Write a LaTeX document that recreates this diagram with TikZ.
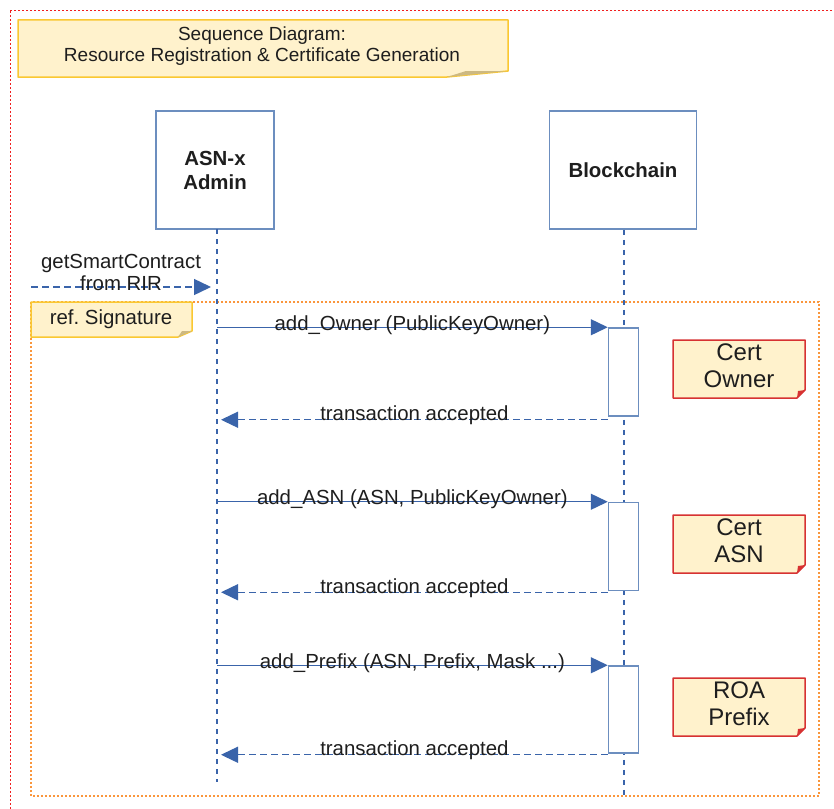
\documentclass[tikz,border=0pt]{standalone}
\usepackage{fontspec}
\setmainfont{Liberation Sans}
\usetikzlibrary{arrows.meta}
\definecolor{lineblue}{RGB}{58,100,170}
\definecolor{boxblue}{RGB}{108,142,191}
\definecolor{noteyellow}{RGB}{255,242,204}
\definecolor{notegold}{RGB}{250,200,50}
\definecolor{folddark}{RGB}{205,185,130}
\definecolor{notered}{RGB}{215,50,50}
\definecolor{framered}{RGB}{240,30,30}
\definecolor{frameorange}{RGB}{250,150,60}
\definecolor{txt}{RGB}{30,30,30}
\frenchspacing
\begin{document}
\begin{tikzpicture}[x=1pt,y=-1pt,
  actor/.style={draw=boxblue, line width=1.8pt, fill=white, minimum height=118pt, inner sep=0pt,
     font=\fontsize{20.4}{24}\selectfont\bfseries, align=center, text=txt},
  lifeline/.style={draw=lineblue, line width=1.2pt, dash pattern=on 5pt off 5pt},
  actbox/.style={draw=boxblue, line width=1.5pt, fill=white, minimum width=30pt, inner sep=0pt},
  msg/.style={draw=lineblue, line width=1.4pt, -{Triangle[length=17pt,width=16pt]}},
  ret/.style={msg, dash pattern=on 7pt off 4pt},
  msglabel/.style={font=\fontsize{20.4}{22}\selectfont, text=txt, inner sep=0pt, align=center},
  yellownote/.style={fill=noteyellow, draw=notegold, line width=1.5pt, line join=round},
  rednote/.style={fill=noteyellow, draw=notered, line width=1.5pt, line join=round},
  notetext/.style={font=\fontsize{24}{27}\selectfont, text=txt, align=center, inner sep=0pt}
]
\useasboundingbox (0,0) rectangle (834,808);
\fill[white] (0,0) rectangle (834,808);

% frames
\draw[framered, line width=1pt, dash pattern=on 2pt off 2pt] (10,11) rectangle (850,830);
\draw[frameorange, line width=1.3pt, dash pattern=on 2pt off 2pt] (31,302) rectangle (819,796);

% title note
\draw[yellownote] (18,20) -- (508,20) -- (508,71) -- (447,77) -- (18,77) -- cycle;
\fill[folddark] (447,77) -- (508,71) -- (466,71) -- cycle;
\node[msglabel, font=\fontsize{19}{21}\selectfont] (title) at (262,46.5) {Sequence Diagram:\\Resource Registration \& Certificate Generation};

% actors
\node[actor, minimum width=118pt] (asn) at (215,170) {ASN-x\\Admin};
\node[actor, minimum width=147pt] (bc) at (623,170) {Blockchain};

% lifelines
\coordinate (asnTop) at (217,229);
\coordinate (asnEnd) at (217,782);
\coordinate (bcEnd) at (624,796);
\draw[lifeline] (asnTop) -- (asnEnd);
\draw[lifeline] (bc.south -| bcEnd) -- (bcEnd);

% getSmartContract
\coordinate (gsStart) at (31,287);
\coordinate (gsEnd) at (211,287);
\draw[ret] (gsStart) -- (gsEnd);
\node[msglabel] (gslabel) at (121,272) {getSmartContract\\from RIR};

% ref signature note
\draw[yellownote] (31,302) -- (192,302) -- (192,331) -- (178,337) -- (31,337) -- cycle;
\fill[folddark] (178,337) -- (192,331) -- (182,331) -- cycle;
\node[msglabel] (refsig) at (111,319) {ref. Signature};

% activation boxes
\node[actbox, minimum height=88pt] (act1) at (623.5,372) {};
\node[actbox, minimum height=88pt] (act2) at (623.5,546.5) {};
\node[actbox, minimum height=87pt] (act3) at (623.5,709.5) {};

% messages
\draw[msg] (asnTop |- act1.north) -- (act1.north west) node[msglabel, midway, yshift=2.5pt] (m1) {add\_Owner (PublicKeyOwner)};
\draw[ret] ([yshift=-3pt]act1.south west) -- ([xshift=4pt,yshift=-3pt]asnTop |- act1.south) node[msglabel, midway, yshift=4.5pt] (r1) {transaction accepted};

\draw[msg] (asnTop |- act2.north) -- (act2.north west) node[msglabel, midway, yshift=2.5pt] (m2) {add\_ASN (ASN, PublicKeyOwner)};
\draw[ret] ([yshift=-1pt]act2.south west) -- ([xshift=4pt,yshift=-1pt]asnTop |- act2.south) node[msglabel, midway, yshift=4.5pt] (r2) {transaction accepted};

\draw[msg] (asnTop |- act3.north) -- (act3.north west) node[msglabel, midway, yshift=2.5pt] (m3) {add\_Prefix (ASN, Prefix, Mask ...)};
\draw[ret] ([yshift=-1pt]act3.south west) -- ([xshift=4pt,yshift=-1pt]asnTop |- act3.south) node[msglabel, midway, yshift=4.5pt] (r3) {transaction accepted};

% cert notes
\draw[rednote] (673,340) -- (805,340) -- (805,390) -- (797,398) -- (673,398) -- cycle;
\fill[notered] (797,398) -- (805,390) -- (798,391) -- cycle;
\node[notetext] (n1) at (739,366) {Cert\\Owner};

\draw[rednote] (673,515) -- (805,515) -- (805,565) -- (797,573) -- (673,573) -- cycle;
\fill[notered] (797,573) -- (805,565) -- (798,566) -- cycle;
\node[notetext] (n2) at (739,541) {Cert\\ASN};

\draw[rednote] (673,678) -- (805,678) -- (805,728) -- (797,736) -- (673,736) -- cycle;
\fill[notered] (797,736) -- (805,728) -- (798,729) -- cycle;
\node[notetext] (n3) at (739,704) {ROA\\Prefix};
\end{tikzpicture}
\end{document}
